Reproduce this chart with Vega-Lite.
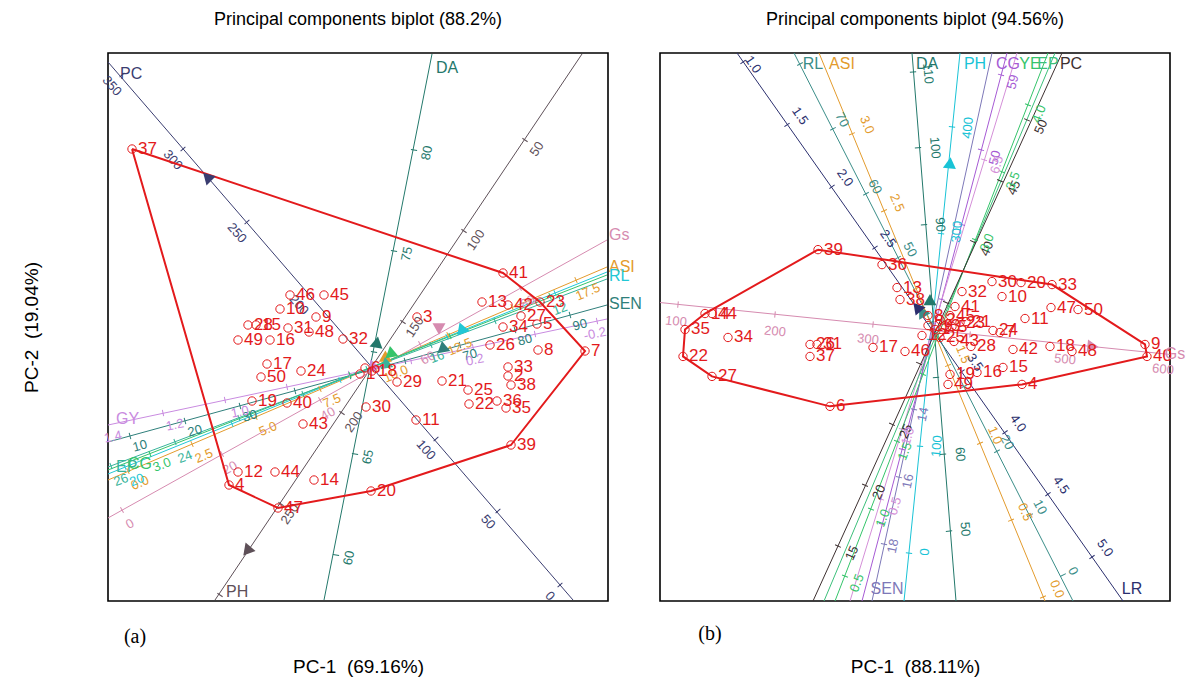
{
"$schema": "https://vega.github.io/schema/vega-lite/v6.json",
"background": "white",
"padding": {"left": 21, "top": 10, "right": 5, "bottom": 5},
"bounds": "flush",
"spacing": 52,
"config": {"view": {"stroke": "black", "strokeWidth": 1.6}, "font": "Liberation Sans"},
"resolve": {"scale": {"x": "independent", "y": "independent", "color": "independent", "angle": "independent"}},
"datasets": {
"pa": [{"id":"1","x":0.02,"y":-0.47},{"id":"2","x":1.50,"y":-0.49},{"id":"3","x":0.59,"y":0.10},{"id":"4","x":-1.29,"y":-1.58},{"id":"5","x":1.79,"y":0.03},{"id":"6","x":0.07,"y":-0.41},{"id":"7","x":2.27,"y":-0.24},{"id":"8","x":1.80,"y":-0.23},{"id":"9","x":-0.42,"y":0.10},{"id":"10","x":-0.78,"y":0.18},{"id":"11","x":0.58,"y":-0.93},{"id":"12","x":-1.20,"y":-1.45},{"id":"13","x":1.24,"y":0.25},{"id":"14","x":-0.44,"y":-1.53},{"id":"15","x":-1.02,"y":0.02},{"id":"16","x":-0.88,"y":-0.13},{"id":"17","x":-0.91,"y":-0.37},{"id":"18","x":0.14,"y":-0.44},{"id":"19","x":-1.06,"y":-0.74},{"id":"20","x":0.13,"y":-1.64},{"id":"21","x":0.84,"y":-0.54},{"id":"22","x":1.11,"y":-0.77},{"id":"23","x":1.82,"y":0.25},{"id":"24","x":-0.57,"y":-0.44},{"id":"25","x":1.10,"y":-0.63},{"id":"26","x":1.32,"y":-0.18},{"id":"27","x":1.63,"y":0.11},{"id":"28","x":-1.10,"y":0.02},{"id":"29","x":0.39,"y":-0.55},{"id":"30","x":0.08,"y":-0.80},{"id":"31","x":-0.70,"y":-0.01},{"id":"32","x":-0.15,"y":-0.12},{"id":"33","x":1.50,"y":-0.40},{"id":"34","x":1.45,"y":0.00},{"id":"35","x":1.48,"y":-0.81},{"id":"36","x":1.39,"y":-0.74},{"id":"37","x":-2.26,"y":1.78},{"id":"38","x":1.53,"y":-0.58},{"id":"39","x":1.53,"y":-1.18},{"id":"40","x":-0.71,"y":-0.76},{"id":"41","x":1.45,"y":0.54},{"id":"42","x":1.50,"y":0.22},{"id":"43","x":-0.55,"y":-0.97},{"id":"44","x":-0.83,"y":-1.45},{"id":"45","x":-0.34,"y":0.32},{"id":"46","x":-0.68,"y":0.32},{"id":"47","x":-0.80,"y":-1.81},{"id":"48","x":-0.49,"y":-0.05},{"id":"49","x":-1.20,"y":-0.13},{"id":"50","x":-0.97,"y":-0.50}],
"ha": [{"o":1,"x":-2.26,"y":1.78},{"o":2,"x":1.45,"y":0.54},{"o":3,"x":1.82,"y":0.25},{"o":4,"x":2.27,"y":-0.24},{"o":5,"x":1.53,"y":-1.18},{"o":6,"x":0.13,"y":-1.64},{"o":7,"x":-0.80,"y":-1.81},{"o":8,"x":-1.29,"y":-1.58},{"o":9,"x":-2.26,"y":1.78}],
"la": [{"v":"PC","x":-2.50,"y":2.65,"xe":2.15,"ye":-2.73},{"v":"DA","x":0.74,"y":2.73,"xe":-0.34,"ye":-2.73},{"v":"PH","x":2.24,"y":2.73,"xe":-1.43,"ye":-2.73},{"v":"Gs","x":-2.50,"y":-1.91,"xe":2.49,"ye":0.87},{"v":"ASI","x":-2.50,"y":-1.53,"xe":2.49,"ye":0.60},{"v":"RL","x":-2.50,"y":-1.47,"xe":2.49,"ye":0.55},{"v":"SEN","x":-2.50,"y":-1.15,"xe":2.49,"ye":0.22},{"v":"GY","x":-2.50,"y":-0.98,"xe":2.49,"ye":0.08},{"v":"CG","x":-2.50,"y":-1.43,"xe":2.49,"ye":0.52},{"v":"EP","x":-2.50,"y":-1.40,"xe":2.49,"ye":0.48}],
"tka": [{"v":"PC","x":-2.36,"y":2.52},{"v":"PC","x":-1.75,"y":1.78},{"v":"PC","x":-1.11,"y":1.05},{"v":"PC","x":-0.49,"y":0.33},{"v":"PC","x":0.14,"y":-0.40},{"v":"PC","x":0.78,"y":-1.12},{"v":"PC","x":1.40,"y":-1.84},{"v":"PC","x":2.02,"y":-2.58},
{"v":"DA","x":0.56,"y":1.77},{"v":"DA","x":0.36,"y":0.76},{"v":"DA","x":0.16,"y":-0.25},{"v":"DA","x":-0.03,"y":-1.27},{"v":"DA","x":-0.22,"y":-2.28},
{"v":"PH","x":1.67,"y":1.87},{"v":"PH","x":1.06,"y":0.96},{"v":"PH","x":0.45,"y":0.05},{"v":"PH","x":-0.16,"y":-0.86},{"v":"PH","x":-0.77,"y":-1.77},{"v":"PH","x":-1.38,"y":-2.68},
{"v":"Gs","x":-2.36,"y":-1.83},{"v":"Gs","x":-1.36,"y":-1.27},{"v":"Gs","x":-0.38,"y":-0.73},{"v":"Gs","x":0.62,"y":-0.17},{"v":"Gs","x":1.62,"y":0.39},
{"v":"ASI","x":-2.30,"y":-1.44},{"v":"ASI","x":-1.66,"y":-1.17},{"v":"ASI","x":-1.02,"y":-0.90},{"v":"ASI","x":-0.38,"y":-0.62},{"v":"ASI","x":0.26,"y":-0.35},{"v":"ASI","x":0.90,"y":-0.08},{"v":"ASI","x":1.54,"y":0.20},{"v":"ASI","x":2.18,"y":0.47},
{"v":"SEN","x":-2.28,"y":-1.09},{"v":"SEN","x":-1.73,"y":-0.94},{"v":"SEN","x":-1.18,"y":-0.79},{"v":"SEN","x":-0.63,"y":-0.64},{"v":"SEN","x":-0.08,"y":-0.49},{"v":"SEN","x":0.47,"y":-0.34},{"v":"SEN","x":1.02,"y":-0.18},{"v":"SEN","x":1.57,"y":-0.03},{"v":"SEN","x":2.12,"y":0.12},
{"v":"GY","x":-1.95,"y":-0.86},{"v":"GY","x":-1.33,"y":-0.73},{"v":"GY","x":-0.71,"y":-0.60},{"v":"GY","x":-0.09,"y":-0.47},{"v":"GY","x":0.53,"y":-0.34},{"v":"GY","x":1.15,"y":-0.20},{"v":"GY","x":1.77,"y":-0.07},{"v":"GY","x":2.39,"y":0.06},
{"v":"RL","x":-2.33,"y":-1.40},{"v":"RL","x":-1.26,"y":-0.97},{"v":"RL","x":-0.18,"y":-0.53},{"v":"RL","x":0.89,"y":-0.10},{"v":"RL","x":1.97,"y":0.34},
{"v":"EP","x":-2.47,"y":-1.39},{"v":"EP","x":-1.83,"y":-1.15},{"v":"EP","x":-1.19,"y":-0.91},{"v":"EP","x":-0.55,"y":-0.67},{"v":"EP","x":0.09,"y":-0.42},{"v":"EP","x":0.73,"y":-0.18},{"v":"EP","x":1.37,"y":0.06},{"v":"EP","x":2.01,"y":0.30},
{"v":"CG","x":-2.08,"y":-1.27},{"v":"CG","x":-1.08,"y":-0.87},{"v":"CG","x":-0.08,"y":-0.48},{"v":"CG","x":0.92,"y":-0.09},{"v":"CG","x":1.92,"y":0.31}],
"tla": [{"v":"PC","x":-2.46,"y":2.41,"t":"350"},{"v":"PC","x":-1.85,"y":1.67,"t":"300"},{"v":"PC","x":-1.21,"y":0.94,"t":"250"},{"v":"PC","x":-0.59,"y":0.22,"t":"200"},{"v":"PC","x":0.68,"y":-1.23,"t":"100"},{"v":"PC","x":1.30,"y":-1.95,"t":"50"},{"v":"PC","x":1.92,"y":-2.69,"t":"0"},
{"v":"DA","x":0.69,"y":1.74,"t":"80"},{"v":"DA","x":0.49,"y":0.73,"t":"75"},{"v":"DA","x":0.10,"y":-1.30,"t":"65"},{"v":"DA","x":-0.09,"y":-2.31,"t":"60"},
{"v":"PH","x":1.79,"y":1.78,"t":"50"},{"v":"PH","x":1.18,"y":0.87,"t":"100"},{"v":"PH","x":0.57,"y":0.00,"t":"150"},{"v":"PH","x":-0.04,"y":-0.95,"t":"200"},{"v":"PH","x":-0.68,"y":-1.87,"t":"250"},
{"v":"Gs","x":-2.28,"y":-1.97,"t":"0"},{"v":"Gs","x":-1.28,"y":-1.41,"t":"20"},{"v":"Gs","x":-0.30,"y":-0.87,"t":"40"},{"v":"Gs","x":0.70,"y":-0.31,"t":"60"},{"v":"Gs","x":1.70,"y":0.25,"t":"80"},
{"v":"ASI","x":-2.18,"y":-1.56,"t":"0.0"},{"v":"ASI","x":-1.54,"y":-1.29,"t":"2.5"},{"v":"ASI","x":-0.90,"y":-1.02,"t":"5.0"},{"v":"ASI","x":-0.26,"y":-0.74,"t":"7.5"},{"v":"ASI","x":0.38,"y":-0.47,"t":"10.0"},{"v":"ASI","x":1.02,"y":-0.20,"t":"12.5"},{"v":"ASI","x":2.30,"y":0.35,"t":"17.5"},
{"v":"SEN","x":-2.18,"y":-1.19,"t":"10"},{"v":"SEN","x":-1.63,"y":-1.04,"t":"20"},{"v":"SEN","x":-1.08,"y":-0.89,"t":"30"},{"v":"SEN","x":1.12,"y":-0.28,"t":"70"},{"v":"SEN","x":1.67,"y":-0.13,"t":"80"},{"v":"SEN","x":2.22,"y":0.02,"t":"90"},
{"v":"GY","x":-2.45,"y":-1.10,"t":"1.4"},{"v":"GY","x":-1.83,"y":-0.98,"t":"1.2"},{"v":"GY","x":-1.18,"y":-0.85,"t":"1.0"},{"v":"GY","x":1.17,"y":-0.33,"t":"0.2"},{"v":"GY","x":2.37,"y":-0.07,"t":"-0.2"},
{"v":"RL","x":-2.21,"y":-1.53,"t":"20"},
{"v":"EP","x":-2.37,"y":-1.53,"t":"26"},{"v":"EP","x":-1.73,"y":-1.30,"t":"24"},{"v":"EP","x":0.79,"y":-0.30,"t":"16"},{"v":"EP","x":2.02,"y":0.18,"t":"12"},
{"v":"CG","x":-1.96,"y":-1.38,"t":"3.0"}],
"na": [{"v":"PC","x":-2.38,"y":2.53},{"v":"DA","x":0.78,"y":2.59},{"v":"PH","x":-1.32,"y":-2.65},{"v":"Gs","x":2.51,"y":0.92},{"v":"ASI","x":2.51,"y":0.60},{"v":"RL","x":2.51,"y":0.51},{"v":"SEN","x":2.51,"y":0.23},{"v":"GY","x":-2.42,"y":-0.92},{"v":"EP","x":-2.42,"y":-1.40},{"v":"CG","x":-2.30,"y":-1.37}],
"aa": [{"v":"PC","x":-1.50,"y":1.47},{"v":"DA","x":0.19,"y":-0.15},{"v":"PH","x":-1.08,"y":-2.23},{"v":"Gs","x":0.81,"y":-0.02},{"v":"RL","x":1.06,"y":-0.03},{"v":"SEN","x":0.87,"y":-0.22},{"v":"ASI","x":0.29,"y":-0.32},{"v":"GY","x":0.17,"y":-0.40},{"v":"CG","x":0.35,"y":-0.27},{"v":"EP","x":0.30,"y":-0.38}],
"pb": [{"id":"1","x":0.20,"y":-0.025},{"id":"2","x":0.25,"y":0.075},{"id":"3","x":0.30,"y":0.015},{"id":"4","x":1.07,"y":-0.575},{"id":"5","x":0.37,"y":0.005},{"id":"6","x":-0.85,"y":-0.795},{"id":"7","x":0.85,"y":-0.055},{"id":"8","x":0.13,"y":0.115},{"id":"9","x":2.30,"y":-0.175},{"id":"10","x":0.87,"y":0.305},{"id":"11","x":1.10,"y":0.085},{"id":"12","x":0.07,"y":-0.085},{"id":"13","x":-0.18,"y":0.395},{"id":"14","x":-2.10,"y":0.135},{"id":"15","x":0.88,"y":-0.405},{"id":"16","x":0.62,"y":-0.455},{"id":"17","x":-0.42,"y":-0.205},{"id":"18","x":1.35,"y":-0.195},{"id":"19","x":0.35,"y":-0.475},{"id":"20","x":1.06,"y":0.445},{"id":"21","x":0.51,"y":0.055},{"id":"22","x":-2.32,"y":-0.295},{"id":"23","x":0.45,"y":0.045},{"id":"24","x":0.78,"y":-0.035},{"id":"25","x":0.25,"y":-0.105},{"id":"26","x":-1.05,"y":-0.175},{"id":"27","x":-2.03,"y":-0.495},{"id":"28","x":0.56,"y":-0.195},{"id":"29","x":0.13,"y":0.015},{"id":"30","x":0.77,"y":0.455},{"id":"31","x":-0.98,"y":-0.175},{"id":"32","x":0.47,"y":0.355},{"id":"33","x":1.37,"y":0.425},{"id":"34","x":-1.87,"y":-0.105},{"id":"35","x":-2.30,"y":-0.025},{"id":"36","x":-0.33,"y":0.625},{"id":"37","x":-1.05,"y":-0.295},{"id":"38","x":-0.15,"y":0.275},{"id":"39","x":-0.97,"y":0.775},{"id":"40","x":2.32,"y":-0.295},{"id":"41","x":0.40,"y":0.205},{"id":"42","x":0.98,"y":-0.225},{"id":"43","x":0.39,"y":-0.145},{"id":"44","x":-2.03,"y":0.135},{"id":"45","x":0.35,"y":0.115},{"id":"46","x":-0.10,"y":-0.245},{"id":"47","x":1.36,"y":0.195},{"id":"48","x":1.57,"y":-0.245},{"id":"49","x":0.33,"y":-0.575},{"id":"50","x":1.63,"y":0.175}],
"hb": [{"o":1,"x":-0.97,"y":0.775},{"o":2,"x":1.37,"y":0.425},{"o":3,"x":2.30,"y":-0.175},{"o":4,"x":2.32,"y":-0.295},{"o":5,"x":1.07,"y":-0.575},{"o":6,"x":-0.85,"y":-0.795},{"o":7,"x":-2.03,"y":-0.495},{"o":8,"x":-2.32,"y":-0.295},{"o":9,"x":-2.30,"y":-0.025},{"o":10,"x":-2.10,"y":0.135},{"o":11,"x":-0.97,"y":0.775}],
"lb": [{"v":"LR","x":-1.78,"y":2.745,"xe":2.08,"ye":-2.745},{"v":"RL","x":-1.21,"y":2.745,"xe":1.58,"ye":-2.745},{"v":"ASI","x":-0.96,"y":2.745,"xe":1.30,"ye":-2.745},{"v":"DA","x":-0.03,"y":2.745,"xe":0.41,"ye":-2.745},{"v":"PH","x":0.45,"y":2.745,"xe":-0.11,"ye":-2.745},{"v":"SEN","x":0.77,"y":2.745,"xe":-0.43,"ye":-2.745},{"v":"CG","x":0.92,"y":2.745,"xe":-0.53,"ye":-2.745},{"v":"GY","x":1.02,"y":2.745,"xe":-0.65,"ye":-2.745},{"v":"YE","x":1.33,"y":2.745,"xe":-0.80,"ye":-2.745},{"v":"EP","x":1.40,"y":2.745,"xe":-0.91,"ye":-2.745},{"v":"PC","x":1.47,"y":2.745,"xe":-1.02,"ye":-2.745},{"v":"Gs","x":-2.55,"y":0.245,"xe":2.55,"ye":-0.275}],
"tkb": [{"v":"LR","x":-1.72,"y":2.655},{"v":"LR","x":-1.28,"y":2.025},{"v":"LR","x":-0.83,"y":1.405},{"v":"LR","x":-0.40,"y":0.795},{"v":"LR","x":0.04,"y":0.175},{"v":"LR","x":0.47,"y":-0.445},{"v":"LR","x":0.90,"y":-1.055},{"v":"LR","x":1.33,"y":-1.675},{"v":"LR","x":1.77,"y":-2.305},
{"v":"RL","x":-1.15,"y":2.635},{"v":"RL","x":-0.82,"y":1.985},{"v":"RL","x":-0.49,"y":1.335},{"v":"RL","x":-0.17,"y":0.695},{"v":"RL","x":0.16,"y":0.045},{"v":"RL","x":0.49,"y":-0.595},{"v":"RL","x":0.82,"y":-1.245},{"v":"RL","x":1.15,"y":-1.885},{"v":"RL","x":1.48,"y":-2.485},
{"v":"ASI","x":-0.63,"y":1.935},{"v":"ASI","x":-0.31,"y":1.165},{"v":"ASI","x":0.01,"y":0.385},{"v":"ASI","x":0.33,"y":-0.385},{"v":"ASI","x":0.65,"y":-1.165},{"v":"ASI","x":0.96,"y":-1.935},{"v":"ASI","x":1.28,"y":-2.705},
{"v":"DA","x":-0.02,"y":2.555},{"v":"DA","x":0.03,"y":1.795},{"v":"DA","x":0.09,"y":1.025},{"v":"DA","x":0.15,"y":0.255},{"v":"DA","x":0.21,"y":-0.505},{"v":"DA","x":0.28,"y":-1.275},{"v":"DA","x":0.34,"y":-2.045},
{"v":"PH","x":0.37,"y":2.005},{"v":"PH","x":0.26,"y":0.935},{"v":"PH","x":0.15,"y":-0.125},{"v":"PH","x":0.05,"y":-1.195},{"v":"PH","x":-0.06,"y":-2.265},
{"v":"PC","x":1.12,"y":2.075},{"v":"PC","x":0.85,"y":1.465},{"v":"PC","x":0.58,"y":0.855},{"v":"PC","x":0.31,"y":0.245},{"v":"PC","x":0.04,"y":-0.365},{"v":"PC","x":-0.23,"y":-0.975},{"v":"PC","x":-0.50,"y":-1.585},{"v":"PC","x":-0.77,"y":-2.195},
{"v":"YE","x":1.13,"y":2.225},{"v":"YE","x":0.87,"y":1.555},{"v":"YE","x":0.60,"y":0.875},{"v":"YE","x":0.34,"y":0.205},{"v":"YE","x":0.08,"y":-0.475},{"v":"YE","x":-0.18,"y":-1.145},{"v":"YE","x":-0.44,"y":-1.825},{"v":"YE","x":-0.70,"y":-2.495},
{"v":"CG","x":0.86,"y":2.525},{"v":"CG","x":0.66,"y":1.775},{"v":"CG","x":0.47,"y":1.025},{"v":"CG","x":0.27,"y":0.275},{"v":"CG","x":-0.13,"y":-1.225},{"v":"CG","x":-0.33,"y":-1.975},
{"v":"GY","x":0.69,"y":1.675},{"v":"GY","x":-0.13,"y":-1.025},{"v":"GY","x":-0.34,"y":-1.725},
{"v":"SEN","x":-0.01,"y":-0.825},{"v":"SEN","x":-0.16,"y":-1.505},{"v":"SEN","x":-0.31,"y":-2.175},
{"v":"Gs","x":-2.37,"y":0.225},{"v":"Gs","x":-1.40,"y":0.125},{"v":"Gs","x":-0.42,"y":0.025},{"v":"Gs","x":0.55,"y":-0.075},{"v":"Gs","x":1.52,"y":-0.165},{"v":"Gs","x":2.49,"y":-0.265}],
"tlb": [{"v":"LR","x":-1.62,"y":2.63,"t":"1.0"},{"v":"LR","x":-1.15,"y":2.115,"t":"1.5"},{"v":"LR","x":-0.70,"y":1.495,"t":"2.0"},{"v":"LR","x":-0.27,"y":0.885,"t":"2.5"},{"v":"LR","x":0.60,"y":-0.355,"t":"3.5"},{"v":"LR","x":1.03,"y":-0.965,"t":"4.0"},{"v":"LR","x":1.46,"y":-1.585,"t":"4.5"},{"v":"LR","x":1.90,"y":-2.215,"t":"5.0"},
{"v":"RL","x":-0.73,"y":2.075,"t":"70"},{"v":"RL","x":-0.40,"y":1.405,"t":"60"},{"v":"RL","x":-0.05,"y":0.775,"t":"50"},{"v":"RL","x":0.92,"y":-1.155,"t":"20"},{"v":"RL","x":1.25,"y":-1.805,"t":"10"},{"v":"RL","x":1.58,"y":-2.445,"t":"0"},
{"v":"ASI","x":-0.48,"y":2.025,"t":"3.0"},{"v":"ASI","x":-0.18,"y":1.245,"t":"2.5"},{"v":"ASI","x":0.48,"y":-0.275,"t":"1.5"},{"v":"ASI","x":0.80,"y":-1.085,"t":"1.0"},{"v":"ASI","x":1.10,"y":-1.855,"t":"0.5"},{"v":"ASI","x":1.42,"y":-2.625,"t":"0.0"},
{"v":"DA","x":0.13,"y":2.54,"t":"110"},{"v":"DA","x":0.20,"y":1.795,"t":"100"},{"v":"DA","x":0.25,"y":1.025,"t":"90"},{"v":"DA","x":0.45,"y":-1.275,"t":"60"},{"v":"DA","x":0.50,"y":-2.025,"t":"50"},
{"v":"PH","x":0.53,"y":1.995,"t":"400"},{"v":"PH","x":0.42,"y":0.955,"t":"300"},{"v":"PH","x":0.22,"y":-1.195,"t":"100"},{"v":"PH","x":0.10,"y":-2.255,"t":"0"},
{"v":"PC","x":1.26,"y":2.005,"t":"50"},{"v":"PC","x":0.99,"y":1.395,"t":"45"},{"v":"PC","x":0.72,"y":0.785,"t":"40"},{"v":"PC","x":-0.09,"y":-1.045,"t":"25"},{"v":"PC","x":-0.36,"y":-1.655,"t":"20"},{"v":"PC","x":-0.63,"y":-2.265,"t":"15"},
{"v":"YE","x":1.24,"y":2.135,"t":"4.0"},{"v":"YE","x":0.98,"y":1.465,"t":"3.5"},{"v":"YE","x":0.72,"y":0.845,"t":"3.0"},{"v":"YE","x":-0.10,"y":-1.245,"t":"1.5"},{"v":"YE","x":-0.32,"y":-1.915,"t":"1.0"},{"v":"YE","x":-0.58,"y":-2.565,"t":"0.5"},
{"v":"CG","x":0.98,"y":2.455,"t":"59"},{"v":"CG","x":0.80,"y":1.695,"t":"50"},
{"v":"GY","x":0.82,"y":1.625,"t":"6.5"},{"v":"GY","x":-0.07,"y":-1.095,"t":"1.0"},{"v":"GY","x":-0.20,"y":-1.795,"t":"0.5"},
{"v":"SEN","x":0.08,"y":-0.875,"t":"14"},{"v":"SEN","x":-0.07,"y":-1.545,"t":"16"},{"v":"SEN","x":-0.22,"y":-2.195,"t":"18"},
{"v":"Gs","x":-2.39,"y":0.055,"t":"100"},{"v":"Gs","x":-1.40,"y":-0.045,"t":"200"},{"v":"Gs","x":-0.47,"y":-0.125,"t":"300"},{"v":"Gs","x":1.50,"y":-0.325,"t":"500"},{"v":"Gs","x":2.48,"y":-0.425,"t":"600"}],
"nb": [{"v":"RL","x":-1.02,"y":2.635},{"v":"ASI","x":-0.73,"y":2.635},{"v":"DA","x":0.12,"y":2.635},{"v":"PH","x":0.60,"y":2.635},{"v":"CG","x":0.93,"y":2.635},{"v":"YE","x":1.15,"y":2.635},{"v":"EP","x":1.33,"y":2.635},{"v":"PC","x":1.56,"y":2.635},{"v":"SEN","x":-0.28,"y":-2.625},{"v":"LR","x":2.17,"y":-2.625},{"v":"Gs","x":2.6,"y":-0.27}],
"ab": [{"v":"PH","x":0.35,"y":1.645},{"v":"Gs","x":1.78,"y":-0.195},{"v":"DA","x":0.15,"y":0.275},{"v":"RL","x":0.07,"y":0.155},{"v":"LR","x":0.02,"y":0.20}]
},
"hconcat": [
{
"width": 500, "height": 548,
"title": {"text": "Principal components biplot (88.2%)", "fontSize": 18, "fontWeight": "normal", "color": "black", "offset": 24},
"resolve": {"scale": {"angle": "independent"}},
"encoding": {
"x": {"field": "x", "type": "quantitative", "scale": {"domain": [-2.5, 2.5], "nice": false, "zero": false},
 "axis": {"title": "PC-1 \u00a0(69.16%)", "labels": false, "ticks": false, "domain": false, "grid": false, "minExtent": 0, "titleFontSize": 19, "titleFontWeight": "normal", "titleColor": "black", "titlePadding": 56}},
"y": {"field": "y", "type": "quantitative", "scale": {"domain": [-2.74, 2.74], "nice": false, "zero": false},
 "axis": {"title": "PC-2 \u00a0(19.04%)", "labels": false, "ticks": false, "domain": false, "grid": false, "minExtent": 0, "titleFontSize": 19, "titleFontWeight": "normal", "titleColor": "black", "titlePadding": 67}}
},
"layer": [
{"data": {"name": "la"}, "mark": {"type": "rule", "strokeWidth": 1, "clip": true},
 "encoding": {"x2": {"field": "xe"}, "y2": {"field": "ye"},
  "color": {"field": "v", "type": "nominal", "legend": null, "scale": {"domain": ["PC","DA","PH","Gs","ASI","RL","SEN","GY","CG","EP"], "range": ["#3a3d70","#23786b","#5e5058","#d68bb0","#e39b2d","#22c7d5","#2f7f7b","#c98be0","#35c46a","#36b39a"]}}}},
{"data": {"name": "tka"}, "mark": {"type": "point", "shape": "M0,-1L0,1", "size": 40, "filled": false, "strokeWidth": 1, "opacity": 1},
 "encoding": {
  "color": {"field": "v", "type": "nominal", "legend": null, "scale": {"domain": ["PC","DA","PH","Gs","ASI","RL","SEN","GY","CG","EP"], "range": ["#3a3d70","#23786b","#5e5058","#d68bb0","#e39b2d","#22c7d5","#2f7f7b","#c98be0","#35c46a","#36b39a"]}},
  "angle": {"field": "v", "type": "nominal", "legend": null, "scale": {"type": "ordinal", "domain": ["PC","DA","PH","Gs","ASI","RL","SEN","GY","CG","EP"], "range": [49,281,304,331,337,338,345,348,338.5,339]}}}},
{"data": {"name": "tla"}, "mark": {"type": "text", "fontSize": 13, "align": "center", "baseline": "middle"},
 "encoding": {"text": {"field": "t"},
  "color": {"field": "v", "type": "nominal", "legend": null, "scale": {"domain": ["PC","DA","PH","Gs","ASI","RL","SEN","GY","CG","EP"], "range": ["#2b2f6e","#23786b","#7a3c62","#d68bb0","#e39b2d","#22c7d5","#2f7f7b","#c98be0","#35c46a","#36b39a"]}},
  "angle": {"field": "v", "type": "nominal", "legend": null, "scale": {"type": "ordinal", "domain": ["PC","DA","PH","Gs","ASI","RL","SEN","GY","CG","EP"], "range": [49,281,304,331,337,338,345,348,338.5,339]}}}},
{"data": {"name": "ha"}, "mark": {"type": "line", "color": "#e31a1c", "strokeWidth": 2},
 "encoding": {"order": {"field": "o", "type": "quantitative"}}},
{"data": {"name": "aa"}, "mark": {"type": "point", "shape": "triangle-up", "filled": true, "size": 170, "opacity": 1},
 "encoding": {
  "color": {"field": "v", "type": "nominal", "legend": null, "scale": {"domain": ["PC","DA","PH","Gs","ASI","RL","SEN","GY","CG","EP"], "range": ["#1a1a60","#1f6b5e","#7a3c62","#e8718c","#e39b2d","#22c7d5","#2f7f7b","#c98be0","#35c46a","#36b39a"]}},
  "angle": {"field": "v", "type": "nominal", "legend": null, "scale": {"type": "ordinal", "domain": ["PC","DA","PH","Gs","ASI","RL","SEN","GY","CG","EP"], "range": [195,10,100,180,120,100,110,100,110,110]}}}},
{"data": {"name": "pa"}, "mark": {"type": "point", "shape": "circle", "size": 70, "filled": false, "stroke": "#e31a1c", "strokeWidth": 1, "opacity": 1}},
{"data": {"name": "pa"}, "mark": {"type": "text", "align": "left", "baseline": "middle", "dx": 6, "fontSize": 17, "color": "#e31a1c"},
 "encoding": {"text": {"field": "id"}}},
{"data": {"name": "na"}, "mark": {"type": "text", "align": "left", "baseline": "middle", "fontSize": 16},
 "encoding": {"text": {"field": "v"},
  "color": {"field": "v", "type": "nominal", "legend": null, "scale": {"domain": ["PC","DA","PH","Gs","ASI","RL","SEN","GY","CG","EP"], "range": ["#2b2f6e","#23786b","#7a3c62","#d68bb0","#e39b2d","#22c7d5","#2f7f7b","#c98be0","#35c46a","#36b39a"]}}}},
{"data": {"values": [{"x": -2.23, "y": -3.10, "t": "(a)"}]}, "mark": {"type": "text", "font": "Liberation Serif", "fontSize": 20, "align": "center", "baseline": "middle", "color": "black"},
 "encoding": {"text": {"field": "t"}}}
]
},
{
"width": 510, "height": 548,
"title": {"text": "Principal components biplot (94.56%)", "fontSize": 18, "fontWeight": "normal", "color": "black", "offset": 24},
"resolve": {"scale": {"angle": "independent"}},
"encoding": {
"x": {"field": "x", "type": "quantitative", "scale": {"domain": [-2.55, 2.55], "nice": false, "zero": false},
 "axis": {"title": "PC-1 \u00a0(88.11%)", "labels": false, "ticks": false, "domain": false, "grid": false, "minExtent": 0, "titleFontSize": 19, "titleFontWeight": "normal", "titleColor": "black", "titlePadding": 56}},
"y": {"field": "y", "type": "quantitative", "scale": {"domain": [-2.745, 2.745], "nice": false, "zero": false}, "axis": null}
},
"layer": [
{"data": {"name": "lb"}, "mark": {"type": "rule", "strokeWidth": 1, "clip": true},
 "encoding": {"x2": {"field": "xe"}, "y2": {"field": "ye"},
  "color": {"field": "v", "type": "nominal", "legend": null, "scale": {"domain": ["LR","RL","ASI","DA","PH","SEN","CG","GY","YE","EP","PC","Gs"], "range": ["#2b2f6e","#3a8d88","#e39b2d","#23786b","#19c3d6","#7d78b8","#a65ad4","#d48fd8","#35c46a","#3cbf7a","#3d3030","#d68bb0"]}}}},
{"data": {"name": "tkb"}, "mark": {"type": "point", "shape": "M0,-1L0,1", "size": 40, "filled": false, "strokeWidth": 1, "opacity": 1},
 "encoding": {
  "color": {"field": "v", "type": "nominal", "legend": null, "scale": {"domain": ["LR","RL","ASI","DA","PH","SEN","CG","GY","YE","EP","PC","Gs"], "range": ["#2b2f6e","#3a8d88","#e39b2d","#23786b","#19c3d6","#7d78b8","#a65ad4","#d48fd8","#35c46a","#3cbf7a","#3d3030","#d68bb0"]}},
  "angle": {"field": "v", "type": "nominal", "legend": null, "scale": {"type": "ordinal", "domain": ["LR","RL","ASI","DA","PH","SEN","CG","GY","YE","EP","PC","Gs"], "range": [55,62.6,67.6,85,276,282,285,287,291,292,294,5.8]}}}},
{"data": {"name": "tlb"}, "mark": {"type": "text", "fontSize": 13, "align": "center", "baseline": "middle"},
 "encoding": {"text": {"field": "t"},
  "color": {"field": "v", "type": "nominal", "legend": null, "scale": {"domain": ["LR","RL","ASI","DA","PH","SEN","CG","GY","YE","EP","PC","Gs"], "range": ["#2b2f6e","#3a8d88","#e39b2d","#23786b","#19c3d6","#3a8d88","#a65ad4","#d48fd8","#35c46a","#3cbf7a","#3d3030","#d68bb0"]}},
  "angle": {"field": "v", "type": "nominal", "legend": null, "scale": {"type": "ordinal", "domain": ["LR","RL","ASI","DA","PH","SEN","CG","GY","YE","EP","PC","Gs"], "range": [55,62.6,67.6,85,276,282,285,287,291,292,294,5.8]}}}},
{"data": {"name": "hb"}, "mark": {"type": "line", "color": "#e31a1c", "strokeWidth": 2},
 "encoding": {"order": {"field": "o", "type": "quantitative"}}},
{"data": {"name": "ab"}, "mark": {"type": "point", "shape": "triangle-up", "filled": true, "size": 170, "opacity": 1},
 "encoding": {
  "color": {"field": "v", "type": "nominal", "legend": null, "scale": {"domain": ["LR","RL","ASI","DA","PH","SEN","CG","GY","YE","EP","PC","Gs"], "range": ["#1f6b5e","#2a7d78","#e39b2d","#1f6b5e","#19c3d6","#7d78b8","#a65ad4","#d48fd8","#35c46a","#3cbf7a","#3d3030","#e8718c"]}},
  "angle": {"field": "v", "type": "nominal", "legend": null, "scale": {"type": "ordinal", "domain": ["LR","RL","ASI","DA","PH","SEN","CG","GY","YE","EP","PC","Gs"], "range": [320,330,0,0,6,0,0,0,0,0,0,96]}}}},
{"data": {"name": "pb"}, "mark": {"type": "point", "shape": "circle", "size": 70, "filled": false, "stroke": "#e31a1c", "strokeWidth": 1, "opacity": 1}},
{"data": {"name": "pb"}, "mark": {"type": "text", "align": "left", "baseline": "middle", "dx": 6, "fontSize": 17, "color": "#e31a1c"},
 "encoding": {"text": {"field": "id"}}},
{"data": {"name": "nb"}, "mark": {"type": "text", "align": "center", "baseline": "middle", "fontSize": 16},
 "encoding": {"text": {"field": "v"},
  "color": {"field": "v", "type": "nominal", "legend": null, "scale": {"domain": ["LR","RL","ASI","DA","PH","SEN","CG","GY","YE","EP","PC","Gs"], "range": ["#2b2f6e","#3a8d88","#e39b2d","#23786b","#19c3d6","#7d78b8","#8f8fd8","#d48fd8","#35c46a","#3cbf7a","#3d3030","#d68bb0"]}}}},
{"data": {"values": [{"x": -2.05, "y": -3.08, "t": "(b)"}]}, "mark": {"type": "text", "font": "Liberation Serif", "fontSize": 20, "align": "center", "baseline": "middle", "color": "black"},
 "encoding": {"text": {"field": "t"}}}
]
}
]
}
